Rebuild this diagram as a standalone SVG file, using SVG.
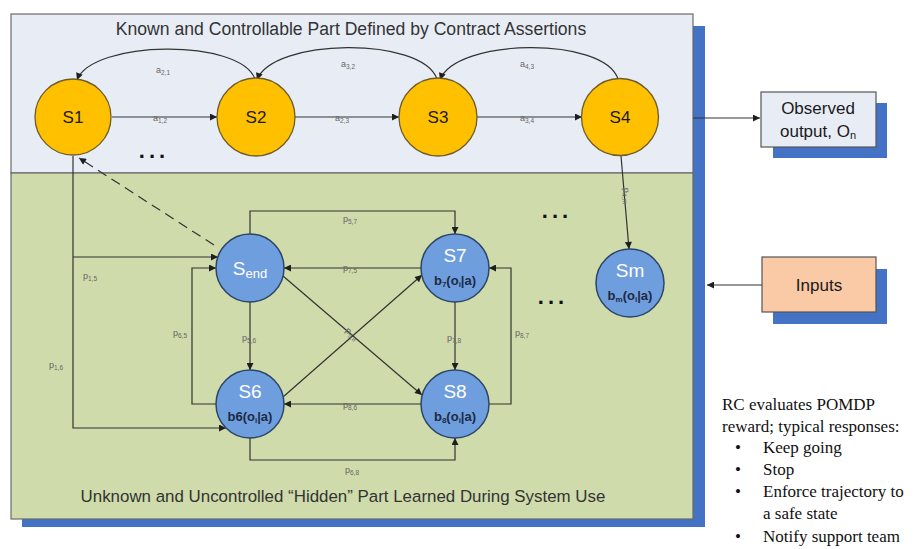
<svg xmlns="http://www.w3.org/2000/svg" width="922" height="549" viewBox="0 0 922 549">
<defs>
<marker id="ah" viewBox="0 0 10 10" refX="10" refY="5" markerWidth="9" markerHeight="7" orient="auto" markerUnits="userSpaceOnUse"><path d="M0,0 L10,5 L0,10 z" fill="#1e1e1e"/></marker>
<style>
.c{fill:none;stroke:#333;stroke-width:1.2;marker-end:url(#ah)}
.lb{font-family:"Liberation Sans",Arial,sans-serif;font-size:9px;fill:#666;text-anchor:middle}
.sb{font-size:6.5px}
.on{fill:#ffc000;stroke:#6e5c2a;stroke-width:1.3}
.bn{fill:#6f9ede;stroke:#2d4568;stroke-width:1.5}
.ot{font-family:"Liberation Sans",Arial,sans-serif;font-size:17px;fill:#1a1a1a;text-anchor:middle}
.wt{font-family:"Liberation Sans",Arial,sans-serif;font-size:19px;fill:#ffffff;text-anchor:middle}
.bt{font-family:"Liberation Sans",Arial,sans-serif;font-size:13px;font-weight:bold;fill:#1d2a45;text-anchor:middle}
.tt{font-family:"Liberation Sans",Arial,sans-serif;fill:#333;text-anchor:middle}
.rt{font-family:"Liberation Serif","Times New Roman",serif;font-size:17px;fill:#111}
.dots{font-family:"Liberation Sans",Arial,sans-serif;font-size:22px;font-weight:bold;fill:#111;text-anchor:middle;letter-spacing:4px}
</style>
</defs>
<rect width="922" height="549" fill="#ffffff"/>
<g id="panels">
<rect x="22" y="26" width="683" height="501" fill="#4472c4"/>
<rect x="11" y="14" width="682" height="159" fill="#e8edf5" stroke="#6a6a6a" stroke-width="1.2"/>
<rect x="11" y="173" width="682" height="346" fill="#cfdbab" stroke="#6a6a6a" stroke-width="1.2"/>
<text class="tt" x="351" y="35" font-size="17.6">Known and Controllable Part Defined by Contract Assertions</text>
<text class="tt" x="343" y="502" font-size="16.9">Unknown and Uncontrolled “Hidden” Part Learned During System Use</text>
<text class="dots" x="154" y="158">...</text>
<text class="dots" x="557" y="218">...</text>
<text class="dots" x="553" y="304">...</text>
</g>
<g id="connectors">
<path class="c" d="M112,117 H217"/>
<path class="c" d="M295,117 H399"/>
<path class="c" d="M477,117 H582"/>
<path class="c" d="M255,79 C240,38 92,40 77,80"/>
<path class="c" d="M437,79 C422,36 272,38 257,80"/>
<path class="c" d="M618,79 C604,36 455,38 440,80"/>
<path class="c" d="M693,118 H760"/>
<path class="c" d="M762,285 H707"/>
<path class="c" d="M73,156 V428 H226"/>
<path class="c" d="M73,257 H218"/>
<path class="c" d="M214,245 L79,158" stroke-dasharray="10,6"/>
<path class="c" d="M250,234 V211 H455 V234"/>
<path class="c" d="M421,268 H284"/>
<path class="c" d="M216,404 H192 V268 H216"/>
<path class="c" d="M250,302 V370"/>
<path class="c" d="M455,302 V370"/>
<path class="c" d="M489,404 H511 V268 H489"/>
<path class="c" d="M421,404 H284"/>
<path class="c" d="M250,438 V460 H455 V438"/>
<path class="c" d="M283,276 L422,395"/>
<path class="c" d="M283,397 L422,275"/>
<path class="c" d="M621,156 L629,249"/>
<text class="lb" x="163" y="73">a<tspan class="sb" dy="2">2,1</tspan></text>
<text class="lb" x="348" y="67">a<tspan class="sb" dy="2">3,2</tspan></text>
<text class="lb" x="527" y="67">a<tspan class="sb" dy="2">4,3</tspan></text>
<text class="lb" x="160" y="121">a<tspan class="sb" dy="2">1,2</tspan></text>
<text class="lb" x="342" y="121">a<tspan class="sb" dy="2">2,3</tspan></text>
<text class="lb" x="527" y="121">a<tspan class="sb" dy="2">3,4</tspan></text>
<text class="lb" x="90" y="279">p<tspan class="sb" dy="2">1,5</tspan></text>
<text class="lb" x="56" y="368">p<tspan class="sb" dy="2">1,6</tspan></text>
<text class="lb" x="350" y="222">p<tspan class="sb" dy="2">5,7</tspan></text>
<text class="lb" x="350" y="271">p<tspan class="sb" dy="2">7,5</tspan></text>
<text class="lb" x="180" y="336">p<tspan class="sb" dy="2">6,5</tspan></text>
<text class="lb" x="249" y="341">p<tspan class="sb" dy="2">5,6</tspan></text>
<text class="lb" x="454" y="341">p<tspan class="sb" dy="2">7,8</tspan></text>
<text class="lb" x="522" y="336">p<tspan class="sb" dy="2">8,7</tspan></text>
<text class="lb" x="350" y="408">p<tspan class="sb" dy="2">8,6</tspan></text>
<text class="lb" x="352" y="473">p<tspan class="sb" dy="2">6,8</tspan></text>
<text class="lb" x="0" y="0" transform="translate(350,336) rotate(42)">p<tspan class="sb" dy="2">5,8</tspan></text>
<text class="lb" x="0" y="0" transform="translate(624,196) rotate(85)">p<tspan class="sb" dy="2">4,m</tspan></text>
</g>
<g id="S1"><circle class="on" cx="73" cy="117" r="38"/><text class="ot" x="73" y="123">S1</text></g>
<g id="S2"><circle class="on" cx="256" cy="117" r="39"/><text class="ot" x="256" y="123">S2</text></g>
<g id="S3"><circle class="on" cx="438" cy="117" r="39"/><text class="ot" x="438" y="123">S3</text></g>
<g id="S4"><circle class="on" cx="620" cy="117" r="38.5"/><text class="ot" x="620" y="123">S4</text></g>
<g id="Send"><circle class="bn" cx="250" cy="268" r="34"/><text class="wt" x="250" y="275" font-size="20">S<tspan font-size="13" dy="3">end</tspan></text></g>
<g id="S7"><circle class="bn" cx="455" cy="268" r="34"/><text class="wt" x="455" y="262">S7</text><text class="bt" x="455" y="285">b<tspan font-size="8" dy="2">7</tspan><tspan dy="-2">(o</tspan><tspan font-size="8" dy="2">i</tspan><tspan dy="-2">|a)</tspan></text></g>
<g id="S6"><circle class="bn" cx="250" cy="404" r="34"/><text class="wt" x="250" y="398">S6</text><text class="bt" x="250" y="421">b6(o<tspan font-size="8" dy="2">i</tspan><tspan dy="-2">|a)</tspan></text></g>
<g id="S8"><circle class="bn" cx="455" cy="404" r="34"/><text class="wt" x="455" y="398">S8</text><text class="bt" x="455" y="421">b<tspan font-size="8" dy="2">8</tspan><tspan dy="-2">(o</tspan><tspan font-size="8" dy="2">i</tspan><tspan dy="-2">|a)</tspan></text></g>
<g id="Sm"><circle class="bn" cx="630" cy="283" r="34"/><text class="wt" x="630" y="277">Sm</text><text class="bt" x="630" y="300">b<tspan font-size="8" dy="2">m</tspan><tspan dy="-2">(o</tspan><tspan font-size="8" dy="2">i</tspan><tspan dy="-2">|a)</tspan></text></g>
<g id="observed">
<rect x="773" y="103" width="114" height="55" fill="#4472c4"/>
<rect x="761" y="92" width="115" height="55" fill="#e8edf5" stroke="#555" stroke-width="1.2"/>
<text class="ot" x="818" y="114">Observed</text>
<text class="ot" x="818" y="137">output, O<tspan font-size="11" dy="2">n</tspan></text>
</g>
<g id="inputs">
<rect x="773" y="269" width="114" height="55" fill="#4472c4"/>
<rect x="762" y="257" width="114" height="55" fill="#fac9a5" stroke="#555" stroke-width="1.2"/>
<text class="ot" x="819" y="291">Inputs</text>
</g>
<g id="notes">
<text class="rt" x="722" y="410">RC evaluates POMDP</text>
<text class="rt" x="722" y="432">reward; typical responses:</text>
<text class="rt" x="735" y="453">•</text><text class="rt" x="763" y="453">Keep going</text>
<text class="rt" x="735" y="475">•</text><text class="rt" x="763" y="475">Stop</text>
<text class="rt" x="735" y="497">•</text><text class="rt" x="763" y="497">Enforce trajectory to</text>
<text class="rt" x="763" y="519">a safe state</text>
<text class="rt" x="735" y="542">•</text><text class="rt" x="763" y="542">Notify support team</text>
</g>
</svg>
